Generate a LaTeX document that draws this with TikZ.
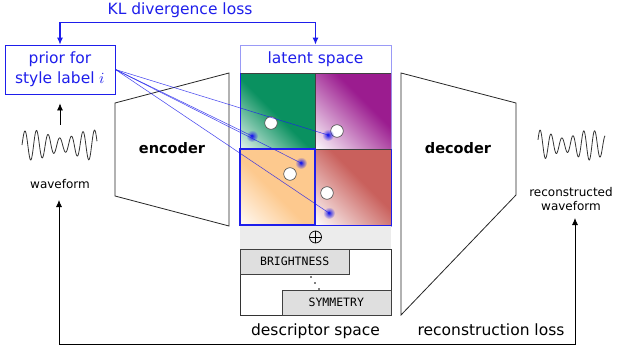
\documentclass[tikz,border=0pt]{standalone}
\usepackage{fontspec}
\usepackage{unicode-math}
\setmainfont{DejaVu Sans}
\setmonofont{DejaVu Sans Mono}
\setmathfont{Latin Modern Math}
\usepackage{tikz}
\usetikzlibrary{arrows.meta,fadings}
\definecolor{myblue}{RGB}{30,30,235}
\definecolor{qgreen}{RGB}{10,145,96}
\definecolor{qpurple}{RGB}{155,28,143}
\definecolor{qorange}{RGB}{253,201,142}
\definecolor{qred}{RGB}{201,96,92}
\tikzfading[name=glowfade, inner color=transparent!0, outer color=transparent!100]
% diagonal fades of the four regions
\pgfdeclareverticalshading{greenfade}{100bp}{color(0bp)=(qgreen!12); color(15bp)=(qgreen!12); color(48bp)=(qgreen); color(100bp)=(qgreen)}
\pgfdeclareverticalshading{purplefade}{100bp}{color(0bp)=(qpurple!3); color(15bp)=(qpurple!3); color(60bp)=(qpurple); color(100bp)=(qpurple)}
\pgfdeclareverticalshading{orangefade}{100bp}{color(0bp)=(qorange!10); color(15bp)=(qorange!10); color(46bp)=(qorange); color(100bp)=(qorange)}
\pgfdeclareverticalshading{redfade}{100bp}{color(0bp)=(qred!3); color(15bp)=(qred!3); color(57bp)=(qred); color(100bp)=(qred)}

\begin{document}
\begin{tikzpicture}[x=1pt, y=-1pt,
    big/.style={font=\fontsize{15.5}{20}\selectfont},
    small/.style={font=\fontsize{12}{14.5}\selectfont},
    tag/.style={draw=black!75, fill=gray!25, minimum width=109, minimum height=25, inner sep=0, font=\ttfamily\fontsize{11.5}{13}\selectfont},
    link/.style={myblue, opacity=0.8, line width=0.55},
    wave/.style={black!80, line width=0.8},
    dot/.style={draw=black!70, fill=white, line width=0.6},
    arr/.style={line width=0.8, -{Latex[length=7pt,width=6pt]}},
    tip/.style={line width=0.8, {Latex[length=7pt,width=6pt]}-{Latex[length=7pt,width=6pt]}}]
    \useasboundingbox (0,0) rectangle (618,353);

    % KL loss between prior and latent space
    \node[big, myblue, anchor=base] (kl) at (180,15) {KL divergence loss};
    \node[big, myblue, draw=myblue, line width=0.8, minimum width=110, minimum height=49, align=center, inner sep=0] (prior) at (60,69.5) {prior for\\style label $i$};

    % encoder
    \draw[black!85, line width=0.8] (115,103) -- (229,73) -- (229,226) -- (115,196) -- cycle;
    \node[font=\bfseries\fontsize{14.5}{18}\selectfont, anchor=base] (enc) at (172,153) {encoder};

    % latent space with its four regions
    \draw[myblue!45, line width=0.8] (240,45) rectangle (391,226);
    \node[big, myblue, draw=myblue!45, line width=0.8, minimum width=151, minimum height=28, inner sep=0] (latent) at (315.5,59) {latent space};
    \shade[shading=greenfade, shading angle=-45] (240,73) rectangle (315,149);
    \shade[shading=purplefade, shading angle=-45] (315,73) rectangle (391,149);
    \shade[shading=orangefade, shading angle=-45] (240,149) rectangle (315,225);
    \shade[shading=redfade, shading angle=-45] (315,149) rectangle (391,225);
    \draw[black!75, line width=1] (240,73) -- (391,73) (315,73) -- (315,149) (315,149) -- (391,149);
    \draw[myblue, line width=1] (240,73) -- (240,225) -- (391,225) -- (391,149);
    \draw[myblue, line width=1.5] (240,149) rectangle (315,225);

    % encoded points
    \draw[dot] (271,123) circle (6.3);
    \draw[dot] (337,131) circle (6.3);
    \draw[dot] (290,174) circle (6.3);
    \draw[dot] (327,193) circle (6.3);

    % prior samples
    \coordinate (g1) at (252,136);
    \coordinate (g2) at (328,135);
    \coordinate (g3) at (301,163);
    \coordinate (g4) at (329,213);
    \foreach \g in {g1,g2,g3,g4} {
        \draw[link] (prior.east) -- (\g);
        \fill[myblue, path fading=glowfade] (\g) circle (6);
        \fill[myblue] (\g) circle (1.5);
    }

    % concatenation
    \fill[gray!15] (240,226) rectangle (391,249);
    \node[circle, draw, line width=0.7, minimum size=12, inner sep=0] (plus) at (315.5,237) {};
    \draw[line width=0.7] (plus.north) -- (plus.south) (plus.west) -- (plus.east);

    % descriptor space
    \draw[black!80, line width=0.8] (240,249) rectangle (391,315);
    \node[tag, anchor=north west] (bright) at (240,249) {BRIGHTNESS};
    \node[tag, anchor=south east] (symm) at (391,315) {SYMMETRY};
    \foreach \d in {0,1,2}
        \fill (311+4*\d,277+6*\d) circle (0.9);
    \node[big, anchor=base] (desc) at (315.5,335) {descriptor space};

    % decoder
    \draw[black!85, line width=0.8] (401,73) -- (516,103) -- (516,195) -- (401,315) -- cycle;
    \node[font=\bfseries\fontsize{14.5}{18}\selectfont, anchor=base] (dec) at (458,153) {decoder};

    % input waveform
    \node[minimum width=76, minimum height=40, inner sep=0] (wavein) at (60,145) {};
    \draw[wave] plot[domain=0:75, samples=220, smooth] ({22+\x}, {145-(11+4*sin(\x*6+30))*sin(\x*31)});
    \node[small, anchor=base] (wavelbl) at (60,188) {waveform};
    \draw[arr, shorten >=9pt] (wavein.north) -- (prior.south);

    % reconstructed waveform
    \node[minimum width=68, minimum height=40, inner sep=0] (waveout) at (572,145) {};
    \draw[wave] plot[domain=0:67, samples=200, smooth] ({538+\x}, {145-(11+4*cos(\x*7))*sin(\x*33+20)});
    \node[small, align=center] (outlbl) at (571,199) {reconstructed\\waveform};

    % losses
    \draw[tip, myblue, line width=1.1] (prior.north) -- ++(0,-22) -| (latent.north);
    \coordinate (lossin) at (59,200);
    \coordinate (lossbase) at (59,344);
    \coordinate (lossout) at (575,218);
    \draw[tip] (lossin) -- (lossbase) -| (lossout);
    \node[big, anchor=base] (recloss) at (491,335) {reconstruction loss};

\end{tikzpicture}
\end{document}
